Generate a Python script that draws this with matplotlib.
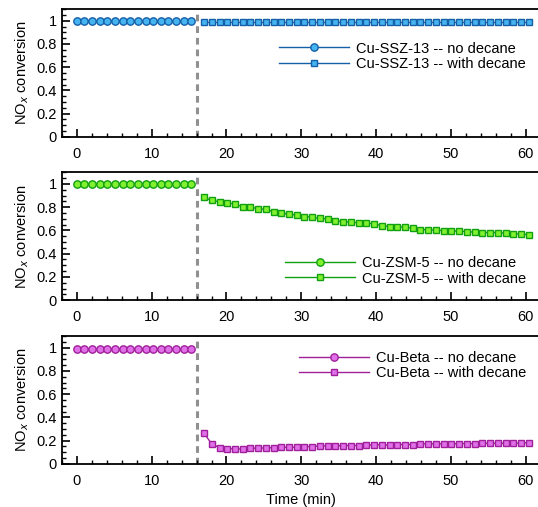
import matplotlib
matplotlib.use("Agg")
import matplotlib.pyplot as plt
from matplotlib.ticker import MultipleLocator

plt.rcParams['font.family'] = ['Liberation Sans', 'DejaVu Sans']
plt.rcParams['font.size'] = 10

# time axes (min)
t_no = [0.0, 1.02, 2.04, 3.06, 4.08, 5.1, 6.12, 7.14, 8.16, 9.18, 10.2,
        11.22, 12.24, 13.26, 14.28, 15.3]
t_with = [17.0, 18.03, 19.07, 20.1, 21.13, 22.17, 23.2, 24.23, 25.27, 26.3,
          27.33, 28.37, 29.4, 30.43, 31.47, 32.5, 33.53, 34.57, 35.6, 36.63,
          37.67, 38.7, 39.73, 40.77, 41.8, 42.83, 43.87, 44.9, 45.93, 46.97,
          48.0, 49.03, 50.07, 51.1, 52.13, 53.17, 54.2, 55.23, 56.27, 57.3,
          58.33, 59.37, 60.4]

ssz_no = [1.0] * 16
ssz_with = [0.99] * 43

zsm_no = [1.0] * 16
zsm_with = [0.884, 0.858, 0.847, 0.838, 0.827, 0.804, 0.804, 0.784, 0.784,
            0.76, 0.749, 0.74, 0.732, 0.72, 0.714, 0.703, 0.70, 0.683, 0.677,
            0.671, 0.666, 0.663, 0.657, 0.64, 0.634, 0.631, 0.628, 0.622,
            0.608, 0.605, 0.602, 0.599, 0.596, 0.594, 0.59, 0.585, 0.582,
            0.582, 0.582, 0.576, 0.573, 0.568, 0.565]

beta_no = [0.99] * 16
beta_with = [0.264, 0.172, 0.14, 0.132, 0.129, 0.129, 0.135, 0.135, 0.138,
             0.14, 0.143, 0.143, 0.143, 0.149, 0.149, 0.155, 0.155, 0.155,
             0.158, 0.158, 0.158, 0.161, 0.164, 0.164, 0.161, 0.167, 0.167,
             0.167, 0.172, 0.172, 0.172, 0.172, 0.172, 0.175, 0.175, 0.175,
             0.178, 0.178, 0.178, 0.178, 0.178, 0.178, 0.184]

panels = [
    ("Cu-SSZ-13", ssz_no, ssz_with, "#1560a8", "#45b4f0", "upper right", (1.0, 0.86)),
    ("Cu-ZSM-5", zsm_no, zsm_with, "#10a010", "#80f030", "lower right", (1.0, 0.0)),
    ("Cu-Beta", beta_no, beta_with, "#a0209c", "#e070e8", "upper right", (1.0, 1.0)),
]

fig = plt.figure(figsize=(5.38, 5.07), dpi=100)
bottoms = [0.730, 0.408, 0.085]
for (name, yno, ywith, ec, fc, loc, anchor), b in zip(panels, bottoms):
    ax = fig.add_axes([0.115, b, 0.89, 0.252])
    ax.axvline(16.1, color="#909090", lw=2.2, ls=(0, (2.2, 1.6)), zorder=1)
    ax.plot(t_no, yno, "-o", color=ec, mfc=fc, mec=ec, ms=5.3, mew=1.0,
            lw=1.0, label=name + " -- no decane", zorder=3)
    ax.plot(t_with, ywith, "-s", color=ec, mfc=fc, mec=ec, ms=4.8, mew=1.0,
            lw=1.0, label=name + " -- with decane", zorder=3)
    ax.set_xlim(-2, 62)
    ax.set_ylim(0, 1.1)
    ax.xaxis.set_major_locator(MultipleLocator(10))
    ax.xaxis.set_minor_locator(MultipleLocator(2))
    ax.yaxis.set_minor_locator(MultipleLocator(0.05))
    ax.set_yticks([0, 0.2, 0.4, 0.6, 0.8, 1.0])
    ax.set_yticklabels(["0", "0.2", "0.4", "0.6", "0.8", "1"])
    ax.tick_params(which="both", direction="in", top=False, right=False,
                   labelsize=10.5)
    ax.tick_params(which="major", length=6, width=1.2)
    ax.tick_params(which="minor", length=3, width=1.0)
    ax.tick_params(axis="x", pad=7)
    for s in ax.spines.values():
        s.set_linewidth(1.3)
    ax.spines["right"].set_visible(False)
    ax.set_ylabel("NO$_x$ conversion", fontsize=10.5, labelpad=4)
    ax.legend(loc=loc, bbox_to_anchor=anchor, frameon=False, handlelength=4.8,
              fontsize=10.5, labelspacing=0.1, handletextpad=0.5,
              borderaxespad=0.6)
    if b == bottoms[-1]:
        ax.set_xlabel("Time (min)", fontsize=10.5, labelpad=4)

fig.savefig("out.png", dpi=100)
